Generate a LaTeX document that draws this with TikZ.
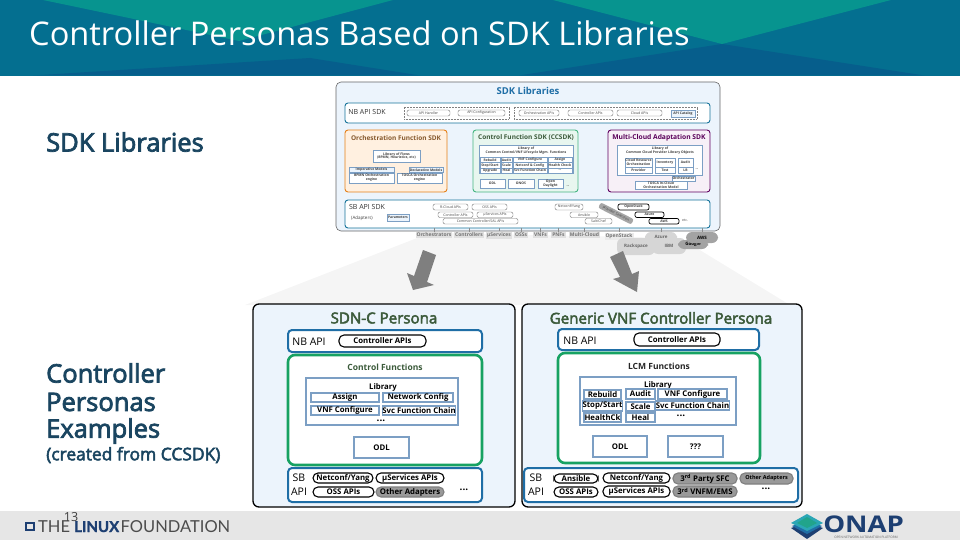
\documentclass[tikz,border=0pt]{standalone}
\usepackage{fontspec}
\setmainfont{Open Sans}
\newfontfamily\footfont{Lato}
\newfontfamily\footbold[FakeBold=1.5]{Lato Bold}
\newfontfamily\semifont[FakeBold=3]{Open Sans}
\usetikzlibrary{positioning,arrows.meta}
\definecolor{headblue}{HTML}{046F90}
\definecolor{headteal}{HTML}{07948F}
\definecolor{headdark}{HTML}{065E8C}
\definecolor{panelblue}{HTML}{ECF4FC}
\definecolor{boxblue}{HTML}{1F6EA6}
\definecolor{cellblue}{HTML}{7C9FC4}
\definecolor{funcgreen}{HTML}{17A262}
\definecolor{titlegreen}{HTML}{3B5A3A}
\definecolor{sidetext}{HTML}{1A4560}
\definecolor{footgray}{HTML}{E6E6E6}
\definecolor{arrowgray}{HTML}{7F7F7F}
\definecolor{onapnavy}{HTML}{1D3F72}
\definecolor{onapteal}{HTML}{2BA6B5}
\tikzset{
  panel/.style={draw=black,line width=1.3pt,fill=panelblue,rounded corners=6pt},
  apibox/.style={draw=boxblue,line width=2pt,fill=white,rounded corners=4pt},
  funcbox/.style={draw=funcgreen,line width=2.6pt,fill=white,rounded corners=7pt},
  libbox/.style={draw=cellblue,line width=1.2pt,fill=white},
  cell/.style={draw=cellblue,line width=1.2pt,fill=white,font=\fontsize{7.8}{8}\selectfont\bfseries,inner sep=0pt},
  pill/.style={draw=black,line width=1.1pt,fill=white,rounded corners=5pt,font=\fontsize{7.8}{8}\selectfont\bfseries,inner sep=0pt},
  graypill/.style={pill,draw=arrowgray,fill=arrowgray!80},
  tiny/.style={font=\fontsize{3.5}{3.9}\selectfont,inner sep=0pt,text=black!75},
  tinyb/.style={tiny,font=\fontsize{3.4}{3.8}\selectfont\bfseries},
  tcell/.style={tinyb,draw=cellblue,line width=.4pt,fill=white,align=center},
  tpill/.style={tiny,draw=black!55,line width=.4pt,fill=white,rounded corners=2pt},
  tpillk/.style={tinyb,draw=black,line width=.7pt,fill=white,rounded corners=2pt},
  target/.style={font=\fontsize{5}{6}\selectfont\bfseries,text=black!55,fill=black!12,inner sep=1pt},
  cloud/.style={tinyb,font=\fontsize{4.5}{5}\selectfont\bfseries,text=black!60,fill=black!16,rounded corners=6pt},
  darkcloud/.style={cloud,text=black,fill=black!36},
  sdkbox/.style={line width=.9pt,rounded corners=3pt},
  tick/.style={draw=black!45,line width=.8pt},
  side/.style={anchor=west,inner sep=0pt,text=sidetext,font=\semifont\fontsize{25.5}{26}\selectfont},
  persona/.style={inner sep=0pt,text=titlegreen,font=\semifont\fontsize{15.1}{16}\selectfont},
  apilab/.style={inner sep=0pt,font=\fontsize{10.5}{11}\selectfont},
  lfword/.style={inner sep=0pt,anchor=base west,text=black!70,font=\footfont\fontsize{16.5}{17}\selectfont}
}
% a box from its top left and bottom right corner, in pixels
\newcommand{\cellat}[7][cell]{\pgfmathsetlengthmacro{\bw}{(#5-#3)*1pt}\pgfmathsetlengthmacro{\bh}{(#6-#4)*1pt}\node[#1,minimum width=\bw,minimum height=\bh] (#2) at ({(#3+#5)/2},{(#4+#6)/2}) {#7};}
\begin{document}
\begin{tikzpicture}[x=1pt,y=-1pt]
\useasboundingbox (0,0) rectangle (960,540);
% header and footer
\fill[headblue] (0,0) rectangle (960,76);
\fill[headteal] (43,0) -- (393,0) -- (239,41) -- cycle;
\fill[headteal] (553,0) -- (891,0) -- (722,44) -- cycle;
\fill[headdark] (33,75.5) -- (310,58) -- (420,75.5) -- cycle;
\fill[headdark] (519,75.5) -- (722,44) -- (924,75.5) -- cycle;
\fill[footgray] (0,511) rectangle (960,540);
\fill[black!4] (430,233) -- (680,238) -- (790,305) -- (245,305) -- cycle;
\node[anchor=west,inner sep=0pt,text=white,font=\fontsize{32.6}{33}\selectfont] (title) at (29,33) {Controller Personas Based on SDK Libraries};
% left column
\node[side] (sdklab) at (46,142) {SDK Libraries};
\node[side] (ctllab) at (46,373) {Controller};
\node[side] (perlab) at (46,402) {Personas};
\node[side] (exlab) at (46,431) {Examples};
\node[anchor=west,inner sep=0pt,text=sidetext,font=\semifont\fontsize{17.4}{18}\selectfont] (crlab) at (46,455) {(created from CCSDK)};
% sdk libraries picture
\cellat[draw=black!60,line width=.6pt,fill=panelblue,rounded corners=5pt]{sdkback}{336}{82}{720}{231}{}
\node[text=boxblue,font=\fontsize{9.5}{10}\selectfont\bfseries,inner sep=0pt] (sdktitle) at (528,91) {SDK Libraries};
\cellat[sdkbox,draw=boxblue!70!teal,fill=white]{nbsdk}{345}{103}{710}{123}{}
\node[inner sep=0pt,font=\fontsize{7}{8}\selectfont,text=black!80] (nbsdklab) at (367,112) {NB API SDK};
\cellat[draw=black!50,densely dotted,line width=.5pt,fill=white]{nbgrpa}{404}{107}{509}{119}{}
\cellat[draw=black!50,densely dotted,line width=.5pt,fill=white]{nbgrpb}{514}{107}{697}{119}{}
\cellat[tpill]{apih}{407}{110}{450}{116}{API Handler}
\cellat[tpill]{apic}{458}{110}{505}{116}{API Configuration}
\cellat[tpill]{apio}{519}{110}{559}{116}{Orchestration APIs}
\cellat[tpill]{apit}{568}{110}{613}{116}{Controller APIs}
\cellat[tpill]{apil}{617}{110}{662}{116}{Cloud APIs}
\cellat[tcell,fill=panelblue]{apig}{671}{110}{695}{117}{API Catalog}
% three sdk boxes
\cellat[sdkbox,draw=orange!60!brown,fill=orange!12]{orchsdk}{345}{130}{447}{192}{}
\cellat[sdkbox,draw=funcgreen!80,fill=funcgreen!10]{ctlsdk}{473}{130}{578}{192}{}
\cellat[sdkbox,draw=violet!75!black,fill=violet!6]{cloudsdk}{608}{130}{710}{192}{}
\node[inner sep=0pt,text=brown!70!black,font=\fontsize{6.5}{7}\selectfont\bfseries] (orchlab) at (396,138) {Orchestration Function SDK};
\node[inner sep=0pt,text=titlegreen,font=\fontsize{6.5}{7}\selectfont\bfseries] (ctllab2) at (526,138) {Control Function SDK (CCSDK)};
\node[inner sep=0pt,text=violet!70!black,font=\fontsize{6.7}{7}\selectfont\bfseries] (cloudlab) at (659,138) {Multi-Cloud Adaptation SDK};
\cellat[tcell]{flows}{373}{150}{420}{162}{Library of Flows\\(BPMN, Heuristics, etc)}
\cellat[tcell,fill=panelblue]{impm}{349}{167}{394}{172.5}{Imperative Models}
\cellat[tcell,fill=panelblue]{decm}{409}{167}{443}{172.5}{Declarative Models}
\cellat[tcell]{bpmn}{349}{173}{394}{183}{BPMN Orchestration\\engine}
\cellat[tcell]{tosca}{397}{173}{442}{183}{TOSCA Orchestration\\engine}
\cellat[libbox,line width=.5pt]{ctllib}{479}{145}{573}{173}{}
\node[tinyb,align=center] (ctllibl) at (526,151) {Library of\\Common Control/VNF Lifecycle Mgm. Functions};
\cellat[tcell]{c11}{480}{157}{500}{162.5}{Rebuild}
\cellat[tcell]{c12}{501}{157}{512}{162.5}{Audit}
\cellat[tcell]{c13}{513}{157}{547}{162.5}{VNF Configure}
\cellat[tcell]{c14}{548}{157}{572}{162.5}{Assign}
\cellat[tcell]{c21}{480}{162.5}{500}{168}{Stop/Start}
\cellat[tcell]{c22}{501}{162.5}{512}{168}{Scale}
\cellat[tcell]{c23}{513}{162.5}{547}{168}{Netconf \& Config}
\cellat[tcell]{c24}{548}{162.5}{572}{168}{Health Check}
\cellat[tcell]{c31}{480}{168}{500}{173}{Upgrade}
\cellat[tcell]{c32}{501}{168}{512}{173}{Heal}
\cellat[tcell]{c33}{513}{168}{547}{173}{Svc Function Chain}
\cellat[tcell]{c34}{548}{168}{572}{173}{...}
\cellat[tcell]{codl}{480}{179}{505}{188}{ODL}
\cellat[tcell]{conos}{508}{179}{534}{188}{ONOS}
\cellat[tcell]{copen}{538}{179}{563}{188}{Open\\Daylight}
\node[tinyb] (cdots) at (568,186) {...};
\cellat[libbox,line width=.5pt]{cloudlib}{617}{145}{702}{175}{}
\node[tinyb,align=center] (cloudlibl) at (660,151) {Library of\\Common Cloud Provider Library Objects};
\cellat[tcell]{m11}{625}{158}{652}{167}{Cloud Resource\\Orchestration}
\cellat[tcell]{m12}{655}{158}{675}{167}{Inventory}
\cellat[tcell]{m13}{678}{158}{693}{167}{Audit}
\cellat[tcell]{m21}{625}{167}{652}{173}{Provider}
\cellat[tcell]{m22}{655}{167}{675}{173}{Test}
\cellat[tcell]{m23}{678}{167}{693}{173}{LB}
\node[tinyb] (mdots) at (697,169) {...};
\cellat[tcell]{mint}{635}{181}{687}{189}{TOSCA In-Cloud\\Orchestration Model}
\cellat[tcell]{mor}{672}{176}{695}{181}{Orchestrator}
% south bound sdk
\cellat[sdkbox,draw=boxblue!70!teal,fill=white]{sbsdk}{345}{200}{710}{228}{}
\node[inner sep=0pt,font=\fontsize{7}{8}\selectfont,text=black!80] (sbsdklab) at (367,207) {SB API SDK};
\node[tiny,font=\fontsize{4.5}{5}\selectfont] (adalab) at (362,218) {(Adapters)};
\cellat[tcell,fill=panelblue]{param}{387}{214}{409}{221}{Parameters}
\cellat[tpill]{rcl}{433}{204}{468}{210}{R-Cloud APIs}
\cellat[tpill]{oss}{472}{204}{507}{210}{OSS APIs}
\cellat[tpill]{ctrl}{438}{212}{473}{217.5}{Controller APIs}
\cellat[tpill]{mus}{477}{212}{513}{217.5}{μServices APIs}
\cellat[tpill]{comm}{443}{218.5}{518}{224}{Common Controller/SAL APIs}
\cellat[tpill]{ncf}{555}{204}{583}{210}{Netconf/Yang}
\cellat[tpill]{ans}{570}{212}{598}{217.5}{Ansible}
\cellat[tpill]{slt}{585}{218.5}{612}{224}{Salt/Chef}
\node[tiny,fill=black!35,rounded corners=2pt,rotate=-27,minimum width=37pt,minimum height=6pt] (prov) at (616,213.5) {Provider Selection};
\cellat[tpillk]{ostk}{618}{204}{649}{210}{OpenStack}
\cellat[tpillk]{azu}{635}{212}{664}{217.5}{Azure}
\cellat[tpillk]{aws}{649}{218.5}{679}{224}{AWS}
\node[tiny] (etc) at (685,220) {etc.};
% targets under the sdk box
\node[target] (torch) at (434,235) {Orchestrators};
\node[target] (tctl) at (469,235) {Controllers};
\node[target] (tmus) at (499,235) {μServices};
\node[target] (toss) at (521,235) {OSSs};
\node[target] (tvnf) at (540.5,235) {VNFs};
\node[target] (tpnf) at (558.5,235) {PNFs};
\node[target] (tmc) at (584.5,235) {Multi-Cloud};
\node[target,fill=black!8] (tos) at (619,236) {OpenStack};
\cellat[cloud]{track}{617}{238}{655}{255}{Rackspace}
\cellat[cloud]{tibm}{652}{238}{686}{254}{IBM}
\cellat[cloud]{tazu}{645}{232}{677}{242}{Azure}
\cellat[darkcloud]{tgoo}{678}{240}{708}{249}{Google}
\cellat[darkcloud]{taws}{686}{232}{718}{243}{AWS}
\foreach \t in {torch,tctl,tmus,toss,tvnf,tpnf,tmc,tos,tazu,taws}
  \draw[tick] (\t.north |- sbsdk.south) -- (\t.north);
% big arrows
\fill[arrowgray] (423,250) -- (436,255) -- (427,282) -- (434,285) -- (413,290) -- (407,273) -- (414,276) -- cycle;
\fill[arrowgray] (610,257) -- (623,251) -- (632,274) -- (639,271) -- (637,292) -- (613,279) -- (620,277) -- cycle;
% sdn-c persona
\cellat[panel]{leftpanel}{253}{304}{515}{507}{}
\node[persona] (lefttitle) at (384,318) {SDN-C Persona};
\cellat[apibox]{leftnb}{288}{330}{482}{352}{}
\node[apilab] (leftnblab) at (309,342) {NB API};
\cellat[pill]{leftctl}{339}{335}{426}{347}{Controller APIs}
\cellat[funcbox]{leftfunc}{288}{355}{482}{465}{}
\node[inner sep=0pt,text=titlegreen,font=\fontsize{8.5}{9}\selectfont\bfseries] (leftfunclab) at (385,367) {Control Functions};
\cellat[libbox]{leftlib}{306}{378}{458}{425}{}
\node[inner sep=0pt,font=\fontsize{7.8}{9}\selectfont\bfseries] (leftliblab) at (383,387) {Library};
\cellat[cell]{lassign}{311}{393}{379}{402}{Assign}
\cellat[cell]{lnet}{383}{393}{453}{402}{Network Config}
\cellat[cell]{lvnf}{311}{406}{379}{415}{VNF Configure}
\cellat[cell]{lsvc}{384}{406}{454}{415}{Svc Function Chain}
\node[inner sep=0pt,font=\bfseries] (ldots) at (381,421) {...};
\cellat[cell]{lodl}{354}{437}{409}{458}{ODL}
\cellat[apibox]{leftsb}{288}{468}{482}{502}{}
\node[apilab] (leftsblab) at (299,478) {SB};
\node[apilab] (leftapilab) at (299,492) {API};
\cellat[pill]{lnetc}{313}{473}{373}{483}{Netconf/Yang}
\cellat[pill]{lmus}{376}{473}{444}{483}{μServices APIs}
\cellat[pill]{loss}{313}{487}{374}{497}{OSS APIs}
\cellat[graypill]{loth}{376}{487}{444}{497}{Other Adapters}
\node[inner sep=0pt,font=\bfseries] (lsdots) at (464,490) {...};
% generic vnf persona
\cellat[panel]{rightpanel}{522}{304}{802}{507}{}
\node[persona] (righttitle) at (661,318) {Generic VNF Controller Persona};
\cellat[apibox]{rightnb}{558}{329}{759}{350}{}
\node[apilab] (rightnblab) at (580,341) {NB API};
\cellat[pill]{rightctl}{634}{333}{720}{346}{Controller APIs}
\cellat[funcbox]{rightfunc}{558}{353}{760}{463}{}
\node[inner sep=0pt,text=black!85,font=\fontsize{8.5}{9}\selectfont\bfseries] (rightfunclab) at (659,366) {LCM Functions};
\cellat[libbox]{rightlib}{580}{377}{736}{425}{}
\node[inner sep=0pt,font=\fontsize{7.8}{9}\selectfont\bfseries] (rightliblab) at (658,385) {Library};
\cellat[cell]{rreb}{584}{390}{621}{399}{Rebuild}
\cellat[cell]{rsto}{584}{401}{621}{411}{Stop/Start}
\cellat[cell]{rhea}{584}{413}{621}{422}{HealthCk}
\cellat[cell]{raud}{626}{389}{655}{399}{Audit}
\cellat[cell]{rsca}{626}{402}{655}{411}{Scale}
\cellat[cell]{rhl}{626}{413}{655}{422}{Heal}
\cellat[cell]{rvnf}{658}{389}{727}{399}{VNF Configure}
\cellat[cell]{rsvc}{658}{401}{727}{410}{Svc Function Chain}
\node[inner sep=0pt,font=\bfseries] (rdots) at (681,416) {...};
\cellat[cell]{rodl}{593}{436}{647}{457}{ODL}
\cellat[cell]{rqqq}{668}{436}{723}{457}{???}
\cellat[apibox]{rightsb}{524}{468}{798}{502}{}
\node[apilab] (rightsblab) at (536,478) {SB};
\node[apilab] (rightapilab) at (536,492) {API};
\cellat[pill]{rans}{554}{474}{598}{483}{Ansible}
\cellat[pill]{ross}{554}{487}{598}{497}{OSS APIs}
\cellat[pill]{rnetc}{603}{473}{670}{483}{Netconf/Yang}
\cellat[pill]{rmus}{603}{486}{670}{497}{μServices APIs}
\cellat[graypill]{rsfc}{673}{473}{737}{484}{3\textsuperscript{rd} Party SFC}
\cellat[graypill]{rems}{673}{486}{737}{497}{3\textsuperscript{rd} VNFM/EMS}
\cellat[graypill,font=\fontsize{5.5}{6}\selectfont\bfseries]{roth}{740}{473}{793}{484}{Other Adapters}
\node[inner sep=0pt,font=\bfseries] (rsdots) at (766,489) {...};
% footer
\node[draw=onapnavy,line width=1.8pt,minimum size=7.5pt,inner sep=0pt] (lfmark) at (30,526.5) {};
\node[lfword] (lfthe) at (38,532) {THE};
\node[lfword,text=onapnavy,font=\footbold\fontsize{15}{16}\selectfont] (lflinux) at (74,532) {LINUX};
\node[lfword] (lffound) at (120.5,532) {FOUNDATION};
\node[inner sep=0pt,text=black!75,font=\fontsize{12.5}{13}\selectfont] (pagenum) at (71,517) {13};
\fill[onapnavy] (807,523) -- (823,528) -- (807,539) -- (791,528) -- cycle;
\fill[boxblue] (807,520) -- (822,526) -- (807,534) -- (792,526) -- cycle;
\fill[onapteal] (807,514) -- (823,523) -- (807,531) -- (791,523) -- cycle;
\fill[funcgreen!50!onapteal] (807,517) -- (817,523) -- (807,528) -- (797,523) -- cycle;
\node[anchor=west,inner sep=0pt,text=onapnavy,xscale=1.2,font=\fontsize{23}{24}\selectfont\bfseries] (onap) at (823,524.5) {ONAP};
\node[tiny,text=black!60,font=\fontsize{3.2}{3.5}\selectfont] (onaptag) at (866,537) {OPEN NETWORK AUTOMATION PLATFORM};
\end{tikzpicture}
\end{document}
